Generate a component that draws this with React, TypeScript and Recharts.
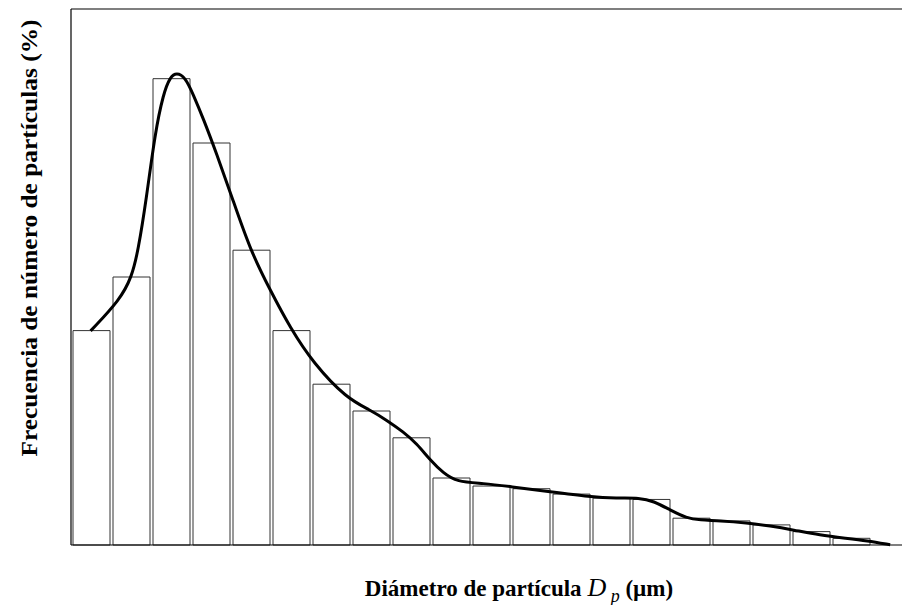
import { ComposedChart, Bar, Line, XAxis, YAxis, ReferenceLine } from 'recharts'

// particle size bins (20 classes) and their number frequency in %
const bins = ['1', '2', '3', '4', '5', '6', '7', '8', '9', '10', '11', '12', '13', '14', '15', '16', '17', '18', '19', '20']
const frequency = [8.0, 10.0, 17.4, 15.0, 11.0, 8.0, 6.0, 5.0, 4.0, 2.5, 2.2, 2.1, 1.9, 1.75, 1.7, 1.0, 0.9, 0.75, 0.5, 0.25]

// fitted distribution curve, x in bin units (0 = left edge of first bin)
const curveX = [0.49, 1.22, 1.52, 1.68, 1.88, 2.1, 2.31, 2.48, 2.64, 2.85, 3.06, 3.31, 3.64, 4.02, 4.48, 4.98, 5.48, 6.06, 6.89, 7.48, 7.89, 8.31, 8.64, 8.98, 9.31, 9.64, 10.31, 10.98, 11.98, 12.98, 13.64, 14.22, 14.56, 14.98, 15.39, 15.72, 16.22, 16.89, 17.48, 18.06, 18.72, 19.39, 19.89, 20.48]
const curveY = [7.99, 9.14, 10.0, 11.0, 12.87, 15.37, 16.85, 17.47, 17.62, 17.47, 16.8, 15.9, 14.6, 13.0, 11.0, 9.51, 8.1, 6.78, 5.47, 5.04, 4.66, 4.22, 3.79, 3.17, 2.68, 2.36, 2.3, 2.18, 1.99, 1.8, 1.74, 1.76, 1.64, 1.31, 1.0, 0.93, 0.91, 0.83, 0.71, 0.56, 0.37, 0.25, 0.16, 0.01]

const barData = bins.map((b, i) => ({ bin: b, freq: frequency[i] }))
const curveData = curveX.map((x, i) => ({ u: x, f: curveY[i] }))

const font = '"Liberation Serif", "Times New Roman", serif'

function AxisTitles() {
  return (
    <g fontFamily={font} fill="#000">
      <text x={519} y={596} textAnchor="middle" fontSize={23} fontWeight="bold">
        <tspan>Diámetro de partícula </tspan>
        <tspan fontStyle="italic" fontWeight="normal" fontSize={26}>D</tspan>
        <tspan fontStyle="italic" fontWeight="normal" fontSize={18} dy={6}> p</tspan>
        <tspan dy={-6}>  (µm)</tspan>
      </text>
      <text
        x={29}
        y={238}
        textAnchor="middle"
        dominantBaseline="central"
        fontSize={23}
        fontWeight="bold"
        textLength={437}
        lengthAdjust="spacingAndGlyphs"
        transform="rotate(-90, 29, 238)"
      >
        Frecuencia de número de partículas (%)
      </text>
    </g>
  )
}

export default function App() {
  return (
    <div style={{ position: 'absolute', left: 0, top: 0, background: '#fff' }}>
      <ComposedChart
        width={902}
        height={605}
        data={barData}
        margin={{ top: 9, right: 0, bottom: 60, left: 11 }}
      >
        <XAxis
          xAxisId="bars"
          dataKey="bin"
          type="category"
          padding={{ left: 0, right: 31 }}
          tick={false}
          tickLine={false}
          height={0}
          axisLine={false}
        />
        <XAxis
          xAxisId="curve"
          dataKey="u"
          type="number"
          domain={[0, 20.775]}
          hide
        />
        <YAxis
          type="number"
          domain={[0, 20]}
          width={60}
          tick={false}
          tickLine={false}
          axisLine={{ stroke: '#000', strokeWidth: 1.2 }}
        />
        <ReferenceLine y={20} xAxisId="bars" stroke="#555" strokeWidth={1.5} />
        <ReferenceLine y={0} xAxisId="bars" stroke="#000" strokeWidth={1.2} />
        <Bar
          xAxisId="bars"
          dataKey="freq"
          barSize={37}
          fill="#fff"
          stroke="#333"
          strokeWidth={1}
          isAnimationActive={false}
        />
        <Line
          xAxisId="curve"
          data={curveData}
          dataKey="f"
          type="basis"
          stroke="#000"
          strokeWidth={3}
          dot={false}
          activeDot={false}
          isAnimationActive={false}
        />
        <AxisTitles />
      </ComposedChart>
    </div>
  )
}
